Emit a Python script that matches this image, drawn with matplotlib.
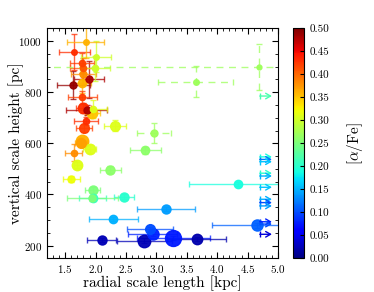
import matplotlib
matplotlib.use('Agg')
import matplotlib.pyplot as plt
from matplotlib.ticker import AutoMinorLocator, MultipleLocator
import numpy as np

plt.rcParams['font.family'] = 'cmr10'
plt.rcParams['mathtext.fontset'] = 'cm'
plt.rcParams['axes.formatter.use_mathtext'] = True

# measured populations: scale length, scale height, errors, [a/Fe], symbol size
rd = [2.10, 2.80, 3.28, 3.66, 2.89, 2.94, 3.16, 2.29, 4.65, 4.34,
      2.47, 1.95, 1.945, 1.95, 2.24, 2.82, 2.955, 3.645, 4.69,
      2.32, 1.90, 1.70, 1.595, 2.005, 1.99, 1.95,
      1.78, 1.76, 1.64, 1.945, 1.835, 1.78, 1.80,
      1.65, 1.81, 1.84, 1.80, 1.78, 1.78, 1.79,
      1.63, 1.895, 1.85]
hz = [222, 218, 230, 225, 263, 244, 343, 303, 280, 442,
      391, 387, 385, 417, 497, 572, 641, 841, 897,
      669, 577, 515, 460, 939, 893, 735,
      610, 602, 563, 717, 995, 835, 872,
      956, 659, 688, 737, 780, 915, 893,
      828, 850, 730]
rd_err = [0.24, 0.45, 0.60, 0.48, 0.38, 0.40, 0.48, 0.40, 0.73, 0.80,
          0.16, 0.22, 0.42, 0.12, 0.17, 0.25, 0.28, 0.62, 4.0,
          0.18, 0.11, 0.06, 0.14, 0.25, 0.25, 0.23,
          0.08, 0.10, 0.14, 0.12, 0.30, 0.15, 0.20,
          0.26, 0.13, 0.20, 0.13, 0.24, 0.20, 0.22,
          0.27, 0.25, 0.33]
hz_err = [8, 10, 8, 8, 8, 8, 8, 8, 10, 8,
          10, 12, 10, 12, 14, 15, 38, 60, 90,
          22, 15, 10, 13, 60, 50, 36,
          15, 18, 33, 18, 60, 40, 40,
          70, 15, 15, 20, 25, 40, 40,
          55, 72, 20]
afe = [0.025, 0.025, 0.075, 0.02, 0.10, 0.08, 0.14, 0.15, 0.11, 0.19,
       0.20, 0.21, 0.25, 0.25, 0.26, 0.26, 0.27, 0.27, 0.27,
       0.31, 0.31, 0.31, 0.32, 0.30, 0.30, 0.31,
       0.36, 0.37, 0.38, 0.35, 0.36, 0.36, 0.38,
       0.43, 0.42, 0.43, 0.43, 0.42, 0.42, 0.41,
       0.49, 0.48, 0.48]
msize = [6.5, 9, 11.5, 7.5, 7, 8, 6.5, 6, 8, 6,
         6.5, 6, 5, 6.5, 6.5, 6, 5, 4, 3.5,
         7, 7.5, 7.5, 5, 4, 4.5, 4.5,
         9, 7, 4.5, 7.5, 4, 6, 5,
         4, 7, 4.5, 7.5, 4.5, 4.5, 4.5,
         5, 5, 5]
dashed = [16, 17, 18]

# populations with only a lower limit on the scale length
lim_rd = 4.7
lim_hz = [547, 537, 528, 483, 472, 428, 381, 368, 355, 293, 284, 244, 785]
lim_afe = [0.19, 0.12, 0.16, 0.20, 0.15, 0.16, 0.15, 0.10, 0.14, 0.08, 0.10, 0.04, 0.22]

cmap = plt.get_cmap('jet')
norm = plt.Normalize(0.0, 0.5)

fig = plt.figure(figsize=(3.74, 2.92), dpi=100)
ax = fig.add_axes([0.1257, 0.1154, 0.6176, 0.7876])
cax = fig.add_axes([0.7826, 0.1154, 0.031, 0.7876])

order = np.argsort(msize)[::-1]
for i in order:
    c = cmap(norm(afe[i]))
    line, caps, bars = ax.errorbar(rd[i], hz[i], xerr=rd_err[i], yerr=hz_err[i],
                                   fmt='o', color=c, ms=msize[i], mec=c,
                                   elinewidth=1.0, capsize=2.5, capthick=1.0,
                                   ecolor=c, alpha=0.95)
    for b in bars:
        b.set_alpha(0.75)
        if i in dashed:
            b.set_linestyle((0, (5, 4)))
    for cp in caps:
        cp.set_alpha(0.75)

for h, a in zip(lim_hz, lim_afe):
    c = cmap(norm(a))
    ax.annotate('', xy=(lim_rd + 0.2, h), xytext=(lim_rd, h),
                arrowprops=dict(arrowstyle='->,head_length=0.35,head_width=0.2',
                                color=c, lw=1.0, shrinkA=0, shrinkB=0))
    ax.plot(lim_rd, h, marker='|', ms=5, mew=1.0, color=c)

ax.set_xlim(1.2, 5.0)
ax.set_ylim(150, 1050)
ax.xaxis.set_major_locator(MultipleLocator(0.5))
ax.yaxis.set_major_locator(MultipleLocator(200))
ax.xaxis.set_minor_locator(AutoMinorLocator(5))
ax.yaxis.set_minor_locator(AutoMinorLocator(4))
ax.tick_params(which='both', direction='in', top=True, right=True, labelsize=8)
ax.tick_params(which='major', length=4)
ax.tick_params(which='minor', length=2)
ax.set_xlabel('radial scale length [kpc]', fontsize=11, va='center')
ax.set_ylabel('vertical scale height [pc]', fontsize=11, va='center')
ax.xaxis.set_label_coords(0.5, -0.108)
ax.yaxis.set_label_coords(-0.135, 0.5)

sm = plt.cm.ScalarMappable(cmap=cmap, norm=norm)
cb = fig.colorbar(sm, cax=cax, ticks=np.arange(0, 0.51, 0.05))
cb.ax.set_yticklabels(['%.2f' % t for t in np.arange(0, 0.51, 0.05)])
cb.ax.tick_params(labelsize=8, direction='in', length=3)
cb.set_label(r'$[\alpha/\mathrm{Fe}]$', fontsize=11, va='center')
cb.ax.yaxis.set_label_coords(5.4, 0.5)

fig.savefig('out.png', dpi=100)
